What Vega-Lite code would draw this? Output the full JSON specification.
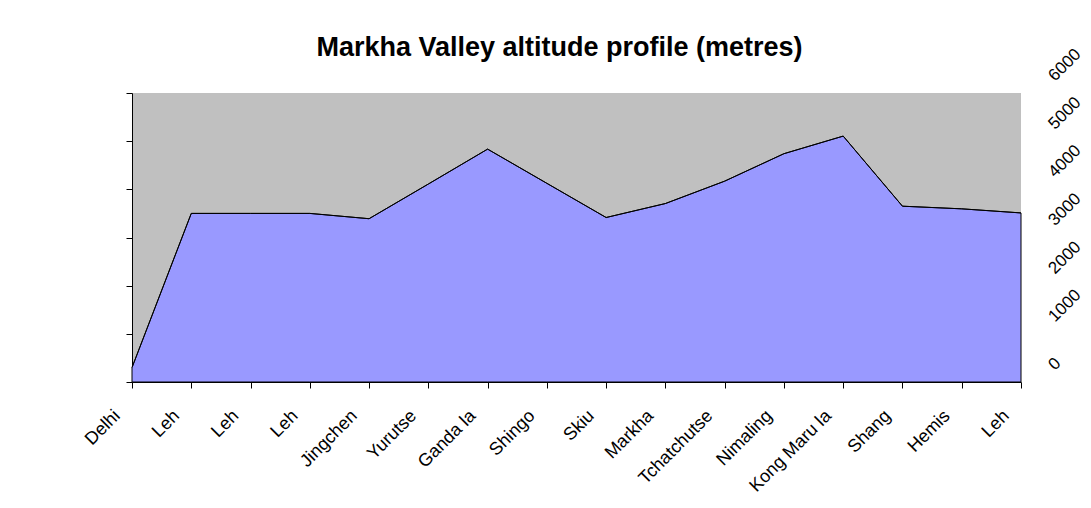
{
  "$schema": "https://vega.github.io/schema/vega-lite/v6.json",
  "width": 889,
  "height": 289,
  "autosize": {"type": "none"},
  "padding": {"left": 132, "top": 93, "right": 70, "bottom": 126},
  "background": "white",
  "config": {
    "view": {"fill": "#C0C0C0", "stroke": null},
    "font": "Liberation Sans",
    "axis": {"labelColor": "black", "domainColor": "black", "tickColor": "black", "grid": false, "title": null, "labelFont": "Liberation Sans"}
  },
  "title": {
    "text": "Markha Valley altitude profile (metres)",
    "font": "Liberation Sans",
    "fontSize": 27,
    "fontWeight": "bold",
    "color": "black",
    "baseline": "alphabetic",
    "frame": "group",
    "anchor": "middle",
    "offset": -38,
    "dx": -17
  },
  "data": {
    "values": [
      {"stop": "Delhi#0", "altitude": 300},
      {"stop": "Leh#1", "altitude": 3500},
      {"stop": "Leh#2", "altitude": 3500},
      {"stop": "Leh#3", "altitude": 3500},
      {"stop": "Jingchen#4", "altitude": 3390},
      {"stop": "Yurutse#5", "altitude": 4110},
      {"stop": "Ganda la#6", "altitude": 4835},
      {"stop": "Shingo#7", "altitude": 4125},
      {"stop": "Skiu#8", "altitude": 3415},
      {"stop": "Markha#9", "altitude": 3705},
      {"stop": "Tchatchutse#10", "altitude": 4170},
      {"stop": "Nimaling#11", "altitude": 4740},
      {"stop": "Kong Maru la#12", "altitude": 5105},
      {"stop": "Shang#13", "altitude": 3650},
      {"stop": "Hemis#14", "altitude": 3595},
      {"stop": "Leh#15", "altitude": 3510}
    ]
  },
  "encoding": {
    "x": {
      "field": "stop",
      "type": "ordinal",
      "sort": null,
      "scale": {"type": "point", "padding": 0},
      "axis": {
        "labelExpr": "split(datum.label, '#')[0]",
        "labelAngle": -45,
        "labelAlign": "right",
        "labelBaseline": "middle",
        "labelFontSize": 18,
        "labelPadding": 25,
        "labelOffset": -15,
        "tickSize": 6,
        "domainWidth": 1,
        "labelOverlap": false,
        "labelBound": false,
        "labelFlush": false
      }
    }
  },
  "layer": [
    {
      "mark": {"type": "area", "color": "#9999FF", "stroke": "black", "strokeWidth": 1, "opacity": 1},
      "encoding": {
        "y": {
          "field": "altitude",
          "type": "quantitative",
          "scale": {"domain": [0, 6000], "nice": false},
          "axis": {"orient": "left", "labels": false, "values": [0, 1000, 2000, 3000, 4000, 5000, 6000], "labelOverlap": false, "tickSize": 6, "domainWidth": 1}
        }
      }
    },
    {
      "mark": {"type": "line", "color": "black", "strokeWidth": 1},
      "encoding": {
        "y": {
          "field": "altitude",
          "type": "quantitative",
          "scale": {"domain": [0, 6000], "nice": false},
          "axis": {
            "orient": "right",
            "values": [0, 1000, 2000, 3000, 4000, 5000, 6000],
            "format": "d",
            "domain": false,
            "ticks": false,
            "tickSize": 0,
            "labelAngle": -45,
            "labelAlign": "left",
            "labelBaseline": "middle",
            "labelFontSize": 17,
            "labelPadding": 30,
            "labelOffset": -15,
            "labelBound": false,
            "labelFlush": false,
            "labelOverlap": false
          }
        }
      }
    }
  ],
  "resolve": {"axis": {"y": "independent"}}
}
